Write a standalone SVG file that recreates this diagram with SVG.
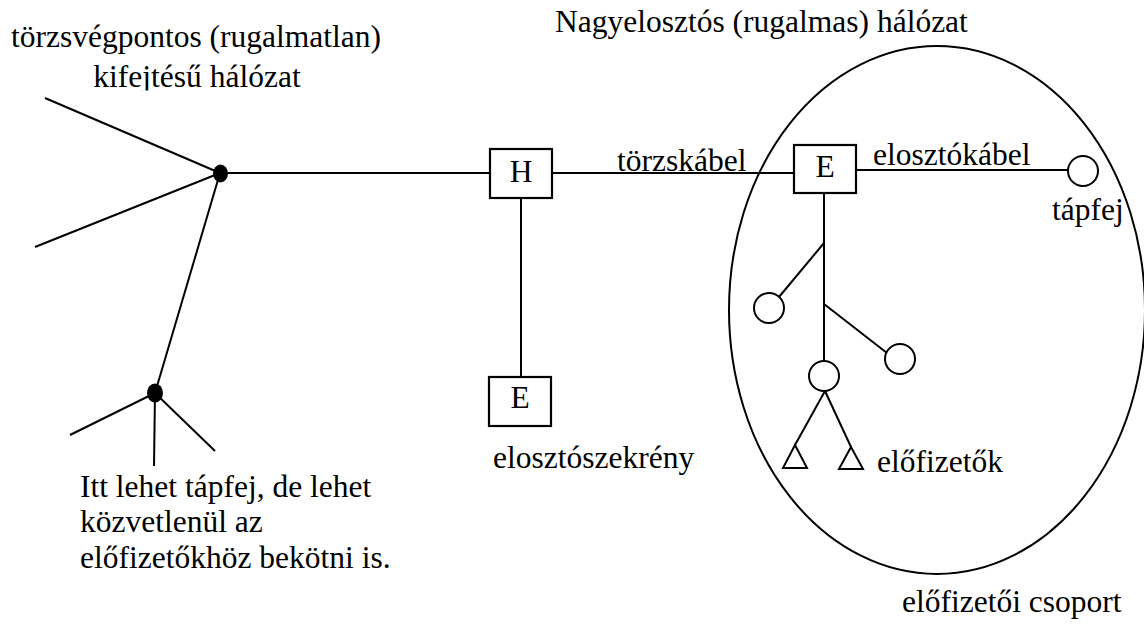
<svg xmlns="http://www.w3.org/2000/svg" width="1144" height="626" viewBox="0 0 1144 626" font-family="'Liberation Serif', 'Times New Roman', Times, 'DejaVu Serif', serif">
  <style>
    .ln { stroke: #000; stroke-width: 2; fill: none; }
    .box { stroke: #000; stroke-width: 2.2; fill: #fff; }
    .sub { stroke: #000; stroke-width: 2; fill: #fff; }
    .dot { fill: #000; stroke: none; }
    .t { font-family: 'Liberation Serif', 'Times New Roman', Times, 'DejaVu Serif', serif; font-size: 31.5px; fill: #000; }
  </style>
  <defs>
    <clipPath id="clip-top-label">
      <rect x="0" y="0" width="420" height="90.5"/>
    </clipPath>
  </defs>
  <rect width="1144" height="626" fill="#fff"/>

  <!-- subscriber group boundary -->
  <g id="group-ellipse">
    <ellipse cx="937" cy="310" rx="208" ry="264" class="ln"/>
  </g>

  <!-- cables -->
  <g id="connectors">
    <!-- star-point feeder network on the left -->
    <line x1="45" y1="98" x2="220" y2="173" class="ln"/>
    <line x1="35" y1="247" x2="220" y2="173" class="ln"/>
    <line x1="220" y1="173" x2="490" y2="173" class="ln"/>
    <line x1="220" y1="173" x2="155" y2="393" class="ln"/>
    <line x1="155" y1="393" x2="70" y2="435" class="ln"/>
    <line x1="155" y1="393" x2="154" y2="466" class="ln"/>
    <line x1="155" y1="393" x2="215" y2="451" class="ln"/>
    <!-- trunk cable H to E -->
    <line x1="552" y1="173" x2="794" y2="173" class="ln"/>
    <line x1="521" y1="198" x2="521" y2="377" class="ln"/>
    <!-- distribution cable to the feed head -->
    <line x1="856" y1="170" x2="1068" y2="170" class="ln"/>
    <!-- subscriber tree -->
    <line x1="824" y1="193" x2="824" y2="361" class="ln"/>
    <line x1="824" y1="243" x2="779" y2="297" class="ln"/>
    <line x1="824" y1="304" x2="887" y2="353" class="ln"/>
    <line x1="825" y1="391" x2="795" y2="445" class="ln"/>
    <line x1="825" y1="391" x2="851" y2="447" class="ln"/>
  </g>

  <g id="junction-top">
    <ellipse cx="220.5" cy="173.5" rx="7.5" ry="9" class="dot"/>
  </g>
  <g id="junction-bottom">
    <ellipse cx="155" cy="393" rx="8" ry="9.5" class="dot"/>
  </g>

  <g id="node-H">
    <rect x="490" y="149" width="62" height="49" class="box"/>
    <text class="t" x="521" y="182" text-anchor="middle">H</text>
  </g>
  <g id="node-E-cabinet">
    <rect x="489" y="377" width="62" height="49" class="box"/>
    <text class="t" x="520" y="408" text-anchor="middle">E</text>
  </g>
  <g id="node-E-group">
    <rect x="794" y="145" width="62" height="48" class="box"/>
    <text class="t" x="825" y="177" text-anchor="middle">E</text>
  </g>

  <g id="feed-head">
    <circle cx="1083" cy="171" r="15" class="sub"/>
  </g>
  <g id="sub-left">
    <circle cx="769" cy="308" r="15" class="sub"/>
  </g>
  <g id="sub-right">
    <circle cx="900" cy="359" r="15" class="sub"/>
  </g>
  <g id="sub-bottom">
    <circle cx="824" cy="376" r="15" class="sub"/>
  </g>
  <g id="tri-left">
    <polygon points="795,445 783,468 807,468" class="sub"/>
  </g>
  <g id="tri-right">
    <polygon points="851,447 839,469 863,469" class="sub"/>
  </g>

  <!-- labels -->
  <g id="labels">
    <text class="t" x="196" y="47" text-anchor="middle">törzsvégpontos (rugalmatlan)</text>
    <text class="t" x="197" y="87" text-anchor="middle" clip-path="url(#clip-top-label)">kifejtésű hálózat</text>
    <text class="t" x="555" y="32">Nagyelosztós (rugalmas) hálózat</text>
    <text class="t" x="617" y="171">törzskábel</text>
    <text class="t" x="873" y="165">elosztókábel</text>
    <text class="t" x="1052" y="220">tápfej</text>
    <text class="t" x="493" y="468">elosztószekrény</text>
    <text class="t" x="877" y="472">előfizetők</text>
    <text class="t" x="902" y="612">előfizetői csoport</text>
    <text class="t" x="80" y="497">Itt lehet tápfej, de lehet</text>
    <text class="t" x="80" y="532">közvetlenül az</text>
    <text class="t" x="80" y="568">előfizetőkhöz bekötni is.</text>
  </g>
</svg>
